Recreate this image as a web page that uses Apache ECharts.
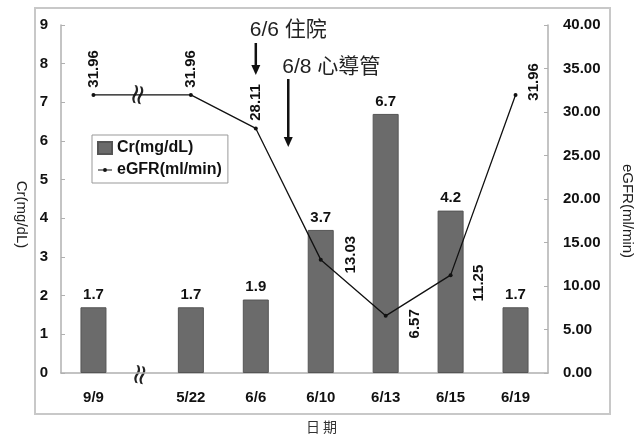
<!DOCTYPE html>
<html><head><meta charset="utf-8">
<script src="https://cdn.jsdelivr.net/npm/echarts@6/dist/echarts.min.js"></script>
<style>html,body{margin:0;padding:0;background:#fff}#c{width:644px;height:435px}</style>
</head><body><div id="c"></div>
<script>
// ---- data ----
const dates = ['9/9', '5/22', '6/6', '6/10', '6/13', '6/15', '6/19'];
const dateSlots = [1, 4, 6, 8, 10, 12, 14];   // axis slot of each date (axis break after 9/9)
const slotCount = 16;
const crValues = [1.7, 1.7, 1.9, 3.7, 6.7, 4.2, 1.7];
const egfrValues = [31.96, 31.96, 28.11, 13.03, 6.57, 11.25, 31.96];
const crAxis = { min: 0, max: 9, interval: 1 };
const egfrAxis = { min: 0, max: 40, interval: 5 };
const events = [{ slot: 6, text: '6/6 住院' }, { slot: 7, text: '6/8 心導管' }];
const seriesNames = ['Cr(mg/dL)', 'eGFR(ml/min)'];

// ---- styles ----
const FONT = '"Liberation Sans", Arial, sans-serif';
// screen-space label offsets (dx, dy) for the rotated eGFR labels
const egfrLabelShift = [[0, -26], [0, -26], [0, -26], [30, -5], [29, 8], [28, 8], [18, -13]];

const axisCats = [];
for (let i = 0; i < slotCount; i++) {
  const k = dateSlots.indexOf(i);
  axisCats.push(k >= 0 ? dates[k] : 'gap' + i);
}
const lineLegendIcon = 'path://M0,0L0.01,0M14,12L13.99,12M0,5.5L14,5.5L14,6.5L0,6.5Z' +
  'M9,6A2,2 0 1 1 5,6A2,2 0 1 1 9,6Z';

const chart = echarts.init(document.getElementById('c'), null, { renderer: 'canvas' });
const option = {
  animation: false,
  backgroundColor: '#fff',
  textStyle: { fontFamily: FONT },
  grid: { left: 61, right: 96, top: 25, bottom: 62, containLabel: false, outerBoundsMode: 'none' },
  legend: {
    data: [{ name: seriesNames[0], icon: 'rect' }, { name: seriesNames[1], icon: lineLegendIcon }],
    orient: 'vertical', left: 92, top: 135,
    itemWidth: 14, itemHeight: 12, itemGap: 6,
    padding: [5, 6, 5, 5],
    borderColor: '#999', borderWidth: 1, backgroundColor: '#fff',
    textStyle: { fontFamily: FONT, fontWeight: 'bold', fontSize: 16, color: '#111' }
  },
  xAxis: {
    type: 'category', data: axisCats, boundaryGap: false,
    axisLine: { lineStyle: { color: '#b0b0b0', width: 1.5 } },
    axisTick: { show: false },
    axisLabel: {
      interval: 0, margin: 17, color: '#111', fontWeight: 'bold', fontSize: 15, fontFamily: FONT,
      formatter: v => (dates.indexOf(v) >= 0 ? v : '')
    },
    name: '日 期', nameLocation: 'middle', nameGap: 47,
    nameTextStyle: { fontSize: 14, color: '#333', fontFamily: '"Noto Sans CJK TC"', padding: [0, 0, 0, 34] }
  },
  yAxis: [{
    type: 'value', min: crAxis.min, max: crAxis.max, interval: crAxis.interval,
    splitLine: { show: false },
    axisLine: { show: true, lineStyle: { color: '#b0b0b0', width: 1.5 } },
    axisTick: { show: true, inside: true, length: 4, lineStyle: { color: '#b0b0b0' } },
    axisLabel: { margin: 13, color: '#111', fontWeight: 'bold', fontSize: 15, fontFamily: FONT },
    name: 'Cr(mg/dL)', nameLocation: 'middle', nameRotate: -90, nameGap: 30,
    nameTextStyle: { fontSize: 15, color: '#222', fontFamily: FONT, padding: [0, 0, 0, 31] }
  }, {
    type: 'value', position: 'right', min: egfrAxis.min, max: egfrAxis.max, interval: egfrAxis.interval,
    splitLine: { show: false },
    axisLine: { show: true, lineStyle: { color: '#b0b0b0', width: 1.5 } },
    axisTick: { show: true, inside: true, length: 4, lineStyle: { color: '#b0b0b0' } },
    axisLabel: { margin: 15, color: '#111', fontWeight: 'bold', fontSize: 15, fontFamily: FONT,
      formatter: v => v.toFixed(2) },
    name: 'eGFR(ml/min)', nameLocation: 'middle', nameRotate: -90, nameGap: 72,
    nameTextStyle: { fontSize: 15, color: '#222', fontFamily: FONT, padding: [0, 0, 0, 24] }
  }],
  series: [{
    name: seriesNames[0], type: 'bar', yAxisIndex: 0, barWidth: 26,
    data: crValues.map((v, i) => [dateSlots[i], v]),
    itemStyle: { color: '#6b6b6b', borderColor: '#555', borderWidth: 1 },
    label: { show: true, position: 'top', distance: 5, color: '#111', fontWeight: 'bold', fontSize: 15,
      fontFamily: FONT, formatter: p => String(p.value[1]) }
  }, {
    name: seriesNames[1], type: 'line', yAxisIndex: 1, z: 5,
    symbol: 'circle', symbolSize: 4,
    itemStyle: { color: '#111' },
    lineStyle: { color: '#111', width: 1.3 },
    data: egfrValues.map((v, i) => ({
      value: [dateSlots[i], v],
      // label is rotated 90deg, so its offset is in rotated space: [-dy, dx]
      label: { offset: [-egfrLabelShift[i][1], egfrLabelShift[i][0]] }
    })),
    label: { show: true, position: 'inside', rotate: 90, align: 'center', verticalAlign: 'middle',
      color: '#111', fontWeight: 'bold', fontSize: 15, fontFamily: FONT,
      formatter: p => p.value[1].toFixed(2) }
  }]
};
chart.setOption(option);

// ---- decorations: frame, axis break marks, event annotations ----
const toPx = (slot, v, axis) => chart.convertToPixel({ xAxisIndex: 0, yAxisIndex: axis }, [slot, v]);
const p1 = toPx(dateSlots[0], egfrValues[0], 1);
const p2 = toPx(dateSlots[1], egfrValues[1], 1);
const breakX = p1[0] + (p2[0] - p1[0]) * 0.47;
const baseY = toPx(0, 0, 0)[1];

function breakMark(x, y) {
  return {
    type: 'group', x: x, y: y, z: 100,
    children: [
      { type: 'rect', shape: { x: -5, y: -4, width: 10, height: 8 }, style: { fill: '#fff' } },
      { type: 'text', rotation: Math.PI / 2.3, style: { text: '≈', x: 0, y: 0, align: 'center', verticalAlign: 'middle',
        font: '28px "DejaVu Sans"', fill: '#222' } }
    ]
  };
}
function arrow(x, y1, y2) {
  return {
    type: 'group', z: 100, children: [
      { type: 'line', shape: { x1: x, y1: y1, x2: x, y2: y2 - 8 }, style: { stroke: '#111', lineWidth: 2.5 } },
      { type: 'polygon', shape: { points: [[x - 4.5, y2 - 10], [x + 4.5, y2 - 10], [x, y2]] }, style: { fill: '#111' } }
    ]
  };
}
const e1x = toPx(events[0].slot, 0, 0)[0];
const e2x = toPx(events[1].slot, 0, 0)[0];
chart.setOption({
  graphic: [
    { type: 'rect', z: -1, shape: { x: 35, y: 8, width: 575, height: 406 }, style: { fill: 'none', stroke: '#c8c8c8', lineWidth: 2 } },
    breakMark(breakX, p1[1]),
    breakMark(breakX + 2, baseY + 2),
    { type: 'text', z: 100, style: { text: events[0].text, x: e1x - 6, y: 30, verticalAlign: 'middle',
      font: '21px "Liberation Sans", "Noto Sans CJK TC"', fill: '#222' } },
    arrow(e1x, 43, 75),
    { type: 'text', z: 100, style: { text: events[1].text, x: e2x - 6, y: 67, verticalAlign: 'middle',
      font: '21px "Liberation Sans", "Noto Sans CJK TC"', fill: '#222' } },
    arrow(e2x, 79, 147)
  ]
});
</script></body></html>
